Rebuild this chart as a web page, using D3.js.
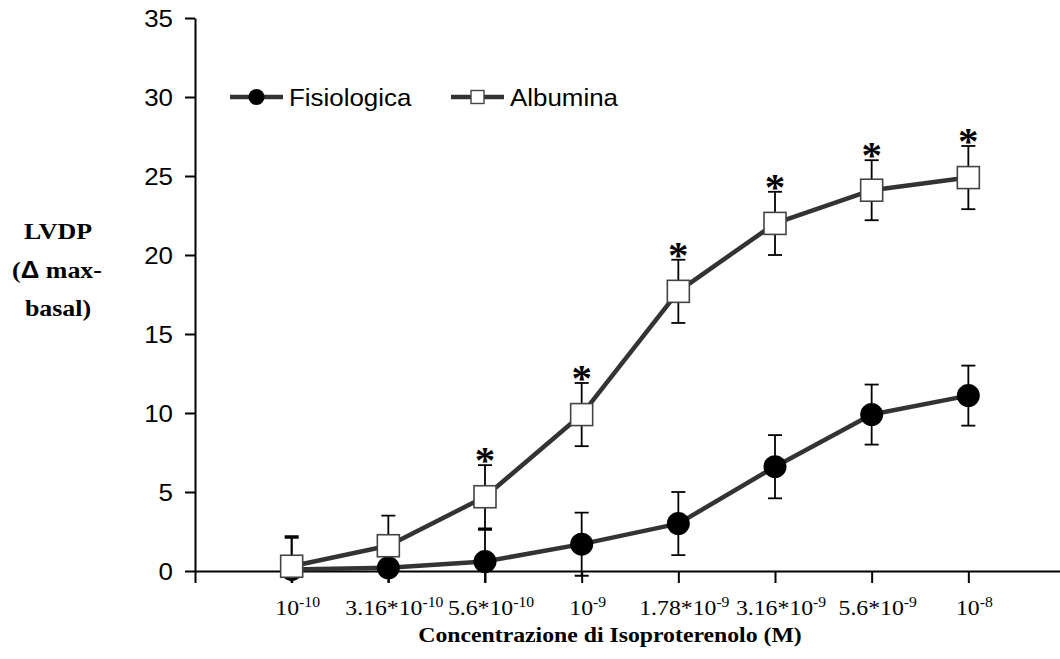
<!DOCTYPE html>
<html>
<head>
<meta charset="utf-8">
<script src="https://cdn.jsdelivr.net/npm/d3@7"></script>
<style>
  html, body { margin: 0; padding: 0; background: #fff; }
  svg { display: block; }
</style>
</head>
<body>
<svg id="chart" width="1060" height="659"></svg>
<script>
// Isoproterenol concentration (categorical, log-spaced doses)
const xTickLabels = ["10^-10", "3.16*10^-10", "5.6*10^-10", "10^-9",
                     "1.78*10^-9", "3.16*10^-9", "5.6*10^-9", "10^-8"];

// LVDP (delta max - basal), mean and error
const fisiologica    = [0.1, 0.2, 0.6, 1.7, 3.0, 6.6, 9.9, 11.1];
const fisiologicaErr = [2.0, 2.0, 2.0, 2.0, 2.0, 2.0, 1.9, 1.9];
const albumina       = [0.3, 1.6, 4.7, 9.9, 17.7, 22.0, 24.1, 24.9];
const albuminaErr    = [1.9, 1.9, 2.0, 2.0, 2.0, 2.0, 1.9, 2.0];
// significance marks (Albumina vs Fisiologica)
const significant    = [false, false, true, true, true, true, true, true];

const yTicks = [0, 5, 10, 15, 20, 25, 30, 35];
const seriesNames = ["Fisiologica", "Albumina"];

const svg = d3.select("#chart");
const TEXT_SX = 1.08;            // slight horizontal widening of the lettering
const LINE_COLOR = "#333333";

const x = d3.scaleLinear().domain([0, 9]).range([195, 1065]);
const y = d3.scaleLinear().domain([0, 35]).range([571, 18]);

// text helper: positioned with a transform so the glyphs can be widened
function label(g, px, py, anchor) {
  return g.append("text")
    .attr("transform", `translate(${px},${py}) scale(${TEXT_SX},1)`)
    .attr("text-anchor", anchor || "start");
}

// ---- axes ----
const yAxis = d3.axisLeft(y).tickValues(yTicks).tickSize(10).tickSizeOuter(0).tickFormat("");
const xAxis = d3.axisBottom(x).tickValues(d3.range(0, 9)).tickSize(12).tickSizeOuter(0).tickFormat("");

const gy = svg.append("g").attr("transform", `translate(${x(0)},0)`).call(yAxis);
const gx = svg.append("g").attr("transform", `translate(0,${y(0)})`).call(xAxis);
[gx, gy].forEach(g => {
  g.selectAll("path.domain").attr("stroke", "#000").attr("stroke-width", 2);
  g.selectAll(".tick line").attr("stroke", "#000").attr("stroke-width", 2);
});

// y tick labels
const yLab = svg.append("g")
  .attr("font-family", "'Liberation Sans', Arial, sans-serif")
  .attr("font-size", 24).attr("fill", "#000");
yTicks.forEach(v => {
  label(yLab, 173, y(v) + 8.5, "end").text(v);
});

// x tick labels: mantissa + superscript exponent
const xLab = svg.append("g")
  .attr("font-family", "'Liberation Serif', 'Times New Roman', serif")
  .attr("font-size", 22).attr("fill", "#000");
xTickLabels.forEach((s, i) => {
  const [base, exp] = s.split("^");
  const t = label(xLab, x(i + 1) + 6, 615, "middle");
  t.append("tspan").text(base);
  t.append("tspan").attr("font-size", 14.5).attr("dy", -8).text(exp);
});

// axis titles
label(svg, 610, 642, "middle")
  .attr("font-family", "'Liberation Serif', 'Times New Roman', serif")
  .attr("font-weight", "bold").attr("font-size", 22)
  .text("Concentrazione di Isoproterenolo (M)");

const yTitle = svg.append("g")
  .attr("font-family", "'Liberation Serif', 'Times New Roman', serif")
  .attr("font-weight", "bold").attr("font-size", 24).attr("fill", "#000");
label(yTitle, 58, 239, "middle").text("LVDP");
const t2 = label(yTitle, 57, 278, "middle");
t2.append("tspan").text("(");
t2.append("tspan").attr("font-family", "'Liberation Sans', Arial, sans-serif").text("Δ");
t2.append("tspan").text(" max-");
label(yTitle, 58, 316, "middle").text("basal)");

// ---- data ----
const series = [
  { name: seriesNames[0], values: fisiologica, err: fisiologicaErr, marker: "circle" },
  { name: seriesNames[1], values: albumina,    err: albuminaErr,    marker: "square" }
];

// error bars, clipped just below the axis
svg.append("clipPath").attr("id", "errClip")
  .append("rect").attr("x", 0).attr("y", 0).attr("width", 1060).attr("height", y(-0.75));

const errG = svg.append("g").attr("clip-path", "url(#errClip)")
  .attr("stroke", "#000").attr("stroke-width", 1.8);
const CAP = 7;
series.forEach(s => {
  s.values.forEach((v, i) => {
    const cx = x(i + 1), hi = y(v + s.err[i]), lo = y(v - s.err[i]);
    errG.append("line").attr("x1", cx).attr("x2", cx).attr("y1", hi).attr("y2", lo);
    errG.append("line").attr("x1", cx - CAP).attr("x2", cx + CAP).attr("y1", hi).attr("y2", hi);
    errG.append("line").attr("x1", cx - CAP).attr("x2", cx + CAP).attr("y1", lo).attr("y2", lo);
  });
});

const line = d3.line().x((d, i) => x(i + 1)).y(d => y(d));

series.forEach(s => {
  svg.append("path").datum(s.values)
    .attr("d", line).attr("fill", "none")
    .attr("stroke", LINE_COLOR).attr("stroke-width", 4.5)
    .attr("stroke-linejoin", "round");
  const g = svg.append("g");
  if (s.marker === "circle") {
    g.selectAll("circle").data(s.values).join("circle")
      .attr("cx", (d, i) => x(i + 1)).attr("cy", d => y(d)).attr("r", 11.5)
      .attr("fill", "#000");
  } else {
    g.selectAll("rect").data(s.values).join("rect")
      .attr("x", (d, i) => x(i + 1) - 11).attr("y", d => y(d) - 11)
      .attr("width", 22).attr("height", 22)
      .attr("fill", "#fff").attr("stroke", "#444").attr("stroke-width", 1.6);
  }
});

// significance asterisks above the Albumina error bars
const starG = svg.append("g")
  .attr("font-family", "'Liberation Serif', 'Times New Roman', serif")
  .attr("font-weight", "bold").attr("font-size", 38).attr("fill", "#000");
albumina.forEach((v, i) => {
  if (!significant[i]) return;
  label(starG, x(i + 1), y(v + albuminaErr[i]) + 8, "middle").text("*");
});

// ---- legend ----
const leg = svg.append("g")
  .attr("font-family", "'Liberation Sans', Arial, sans-serif")
  .attr("font-size", 24).attr("fill", "#000");
const legendItems = [
  { name: seriesNames[0], marker: "circle", x0: 230 },
  { name: seriesNames[1], marker: "square", x0: 451 }
];
legendItems.forEach(it => {
  const ly = 97, mid = it.x0 + 26.5;
  leg.append("line").attr("x1", it.x0).attr("x2", it.x0 + 53).attr("y1", ly).attr("y2", ly)
    .attr("stroke", LINE_COLOR).attr("stroke-width", 4.5);
  if (it.marker === "circle") {
    leg.append("circle").attr("cx", mid).attr("cy", ly).attr("r", 8).attr("fill", "#000");
  } else {
    leg.append("rect").attr("x", mid - 6.5).attr("y", ly - 6.5).attr("width", 13).attr("height", 13)
      .attr("fill", "#fff").attr("stroke", "#444").attr("stroke-width", 1.4);
  }
  label(leg, it.x0 + 59, ly + 8.5, "start").text(it.name);
});
</script>
</body>
</html>
